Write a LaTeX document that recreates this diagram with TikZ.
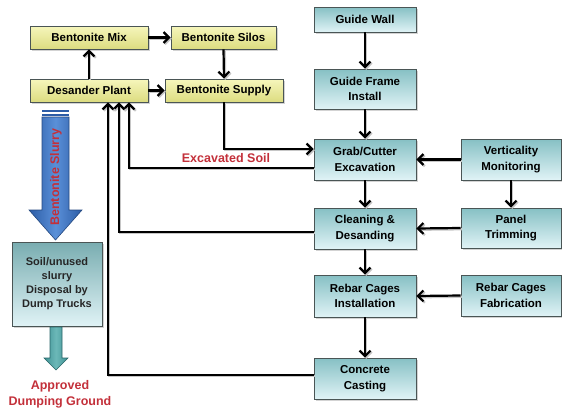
\documentclass[tikz,border=0pt]{standalone}
\usepackage{fontspec}
\setmainfont{Liberation Sans}
\usetikzlibrary{arrows.meta,shadows}
\definecolor{ybtop}{HTML}{F6F6BC}
\definecolor{ybbot}{HTML}{DCDC80}
\definecolor{tbtop}{HTML}{86C0C4}
\definecolor{tbbot}{HTML}{E0F3F6}
\definecolor{boxline}{HTML}{4A5555}
\definecolor{redtxt}{HTML}{C3303A}
\definecolor{blueA}{HTML}{2C5CA6}
\definecolor{blueB}{HTML}{5A90D8}
\definecolor{blueLine}{HTML}{24487F}
\definecolor{tealA}{HTML}{3E9294}
\definecolor{tealB}{HTML}{6CB8B8}
\definecolor{tealLine}{HTML}{2A6668}
\tikzset{
  basebox/.style={draw=boxline, line width=0.8pt, inner sep=2pt, align=center,
    font=\fontsize{11.5}{15.5}\selectfont\bfseries,
    drop shadow={shadow xshift=2pt, shadow yshift=-2pt, opacity=0.35, fill=gray}},
  ybox/.style={basebox, top color=ybtop, bottom color=ybbot, minimum height=23pt},
  tbox/.style={basebox, top color=tbtop, bottom color=tbbot, minimum width=102pt},
  conn/.style={line width=2.2pt, black,
    preaction={draw=gray!45, line width=2.2pt, transform canvas={xshift=1.3pt,yshift=-1.3pt}}},
  arr/.style={conn, -{Straight Barb[length=5.5pt,width=11pt]}},
  redlabel/.style={text=redtxt, font=\fontsize{12.5}{16}\selectfont\bfseries, align=center}
}
\begin{document}
\begin{tikzpicture}[x=1pt,y=-1pt]
\useasboundingbox (0,0) rectangle (562,410);

% left yellow boxes
\node[ybox, minimum width=118pt] (mix) at (89,37.5) {Bentonite Mix};
\node[ybox, minimum width=105pt] (silos) at (223.5,37.5) {Bentonite Silos};
\node[ybox, minimum width=118pt] (desander) at (89,90.5) {Desander Plant};
\node[ybox, minimum width=118pt] (supply) at (224,90.5) {Bentonite Supply};

% right column
\node[tbox, minimum height=25pt] (wall) at (365,19.5) {Guide Wall};
\node[tbox, minimum height=40pt] (frame) at (365,89) {Guide Frame\\Install};
\node[tbox, minimum height=41pt] (grab) at (365,159.5) {Grab/Cutter\\Excavation};
\node[tbox, minimum height=41pt, minimum width=100pt] (vert) at (511,159.5) {Verticality\\Monitoring};
\node[tbox, minimum height=41pt] (clean) at (365,228.5) {Cleaning \&\\Desanding};
\node[tbox, minimum height=40pt, minimum width=100pt] (panel) at (511,228) {Panel\\Trimming};
\node[tbox, minimum height=42pt] (rebari) at (365,296) {Rebar Cages\\Installation};
\node[tbox, minimum height=41pt, minimum width=100pt] (rebarf) at (511,295.5) {Rebar Cages\\Fabrication};
\node[tbox, minimum height=41pt] (concrete) at (365,378.5) {Concrete\\Casting};

% soil box
\node[basebox, top color=tbtop!90!black, bottom color=tbbot, minimum width=90pt, minimum height=84pt,
  font=\fontsize{11}{14}\selectfont\bfseries, text=black!85] (soil) at (57,284)
  {Soil/unused\\slurry\\Disposal by\\Dump Trucks};

% connectors
\draw[arr] (mix.east) -- (silos.west);
\draw[arr] (desander.north) -- (mix.south);
\draw[arr] (silos.south) -- (supply.north);
\draw[arr] (desander.east) -- (supply.west);
\draw[arr] (supply.south) |- ([yshift=10.5pt]grab.west);
\draw[arr] ([yshift=-8.5pt]grab.west) -| ([xshift=40pt]desander.south);
\draw[arr] ([yshift=-3.5pt]clean.west) -| ([xshift=30pt]desander.south);
\draw[arr] ([yshift=3.5pt]concrete.west) -| ([xshift=19pt]desander.south);

\draw[arr] (wall.south) -- (frame.north);
\draw[arr] (frame.south) -- (grab.north);
\draw[arr] (grab.south) -- (clean.north);
\draw[arr] (clean.south) -- (rebari.north);
\draw[arr] (rebari.south) -- (concrete.north);
\draw[arr] (vert.west) -- (grab.east);
\draw[arr] (vert.south) -- (panel.north);
\draw[arr] (panel.west) -- (clean.east);
\draw[arr] (rebarf.west) -- (rebari.east);

\node[redlabel] (exc) at (226,158) {Excavated Soil};

% Bentonite slurry arrow
\fill[blueA] (42,110) rectangle (69,112.3);
\fill[blueA] (42,113.5) rectangle (69,115.8);
\draw[blueLine, line width=0.6pt, left color=blueA, right color=blueA, middle color=blueB]
  (42,117) -- (69,117) -- (69,210) -- (82,210) -- (55.5,240) -- (29,210) -- (42,210) -- cycle;
\node[rotate=90, text=redtxt, font=\fontsize{12.5}{16}\selectfont\bfseries] (slurry) at (56,177) {Bentonite Slurry};

% teal arrow
\draw[tealLine, line width=0.6pt, left color=tealA, right color=tealA, middle color=tealB]
  (50,327) -- (62,327) -- (62,358) -- (68,358) -- (56,370) -- (44,358) -- (50,358) -- cycle;

\node[redlabel] (dump) at (60,394) {Approved\\Dumping Ground};
\end{tikzpicture}
\end{document}
